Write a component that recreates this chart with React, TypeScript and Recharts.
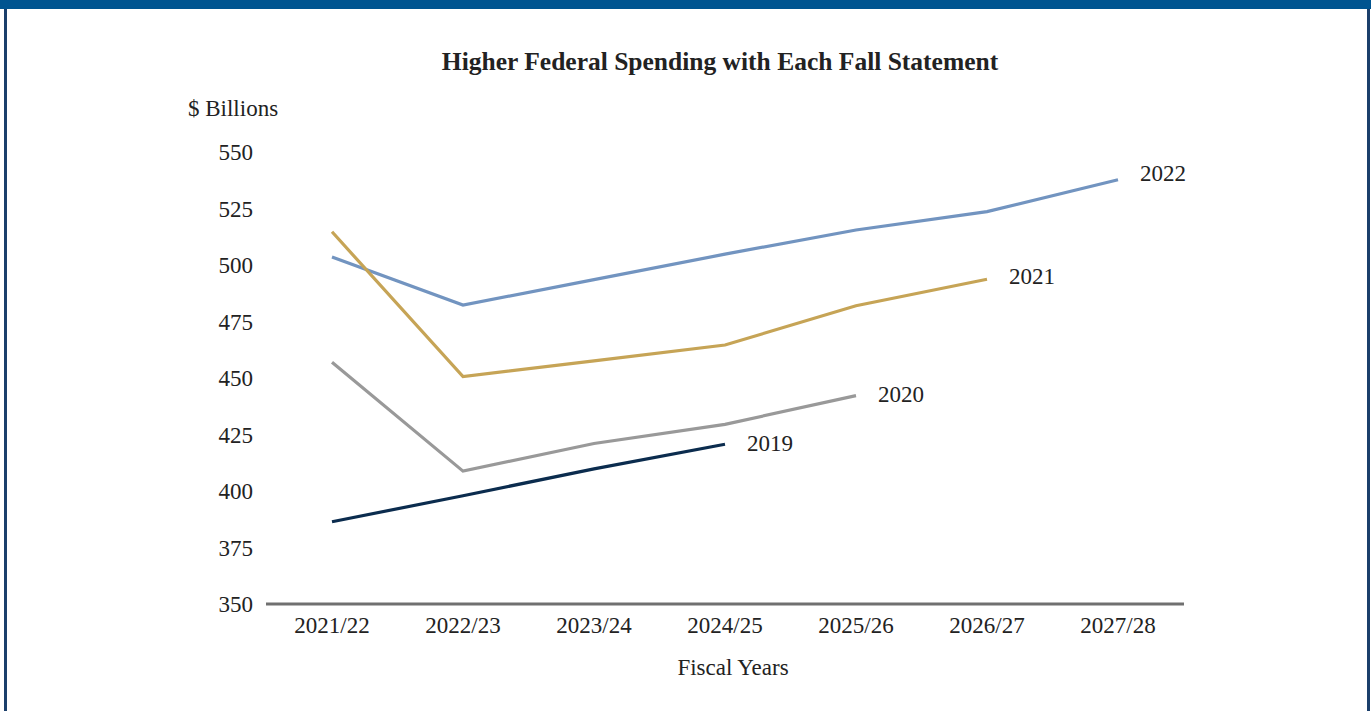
import { LineChart, Line, XAxis, YAxis } from 'recharts'

const years = ['2021/22', '2022/23', '2023/24', '2024/25', '2025/26', '2026/27', '2027/28']
const fall2022 = [503.5, 482.3, 493.5, 504.8, 515.5, 523.6, 537.7]
const fall2021 = [514.7, 450.6, 457.6, 464.6, 482.0, 493.7, null]
const fall2020 = [457.0, 408.8, 421.0, 429.5, 442.2, null, null]
const fall2019 = [386.4, 397.9, 409.8, 420.7, null, null, null]
const yTicks = [350, 375, 400, 425, 450, 475, 500, 525, 550]

const series = [
  { key: 'y2022', name: '2022', values: fall2022, color: '#7294C0', labelDy: -7 },
  { key: 'y2021', name: '2021', values: fall2021, color: '#C6A456', labelDy: -3 },
  { key: 'y2020', name: '2020', values: fall2020, color: '#999999', labelDy: -2 },
  { key: 'y2019', name: '2019', values: fall2019, color: '#0B2C4E', labelDy: -1 },
]

const chartData = years.map((year, i) => {
  const row: Record<string, string | number | null> = { year }
  series.forEach((s) => {
    row[s.key] = s.values[i]
  })
  return row
})

const FONT = '"Liberation Serif", "Times New Roman", serif'
const TEXT = '#222222'

function endLabel(name: string, values: (number | null)[], labelDy: number) {
  const last = values.reduce<number>((acc, v, i) => (v == null ? acc : i), 0)
  return (props: any) => {
    if (props.index !== last) return null
    return (
      <text
        x={props.x + 22}
        y={props.y + labelDy}
        dy="0.355em"
        fill={TEXT}
        fontSize={23}
        fontFamily={FONT}
      >
        {name}
      </text>
    )
  }
}

export default function App() {
  return (
    <div
      style={{
        position: 'fixed',
        left: 0,
        top: 0,
        width: 1371,
        height: 711,
        background: '#ffffff',
        overflow: 'hidden',
      }}
    >
      <div style={{ position: 'absolute', left: 0, top: 0, width: 1371, height: 9, background: '#005490' }} />
      <div style={{ position: 'absolute', left: 4, top: 9, width: 3, height: 702, background: '#1B3F6B' }} />
      <div style={{ position: 'absolute', left: 1367, top: 9, width: 3, height: 702, background: '#1B3F6B' }} />

      <div style={{ position: 'absolute', left: 0, top: 0 }}>
        <LineChart
          width={1371}
          height={711}
          data={chartData}
          margin={{ top: 152, right: 187, bottom: 67, left: 206 }}
        >
          <XAxis
            dataKey="year"
            height={40}
            padding={{ left: 66, right: 66 }}
            axisLine={{ stroke: '#707070', strokeWidth: 3 }}
            tickLine={false}
            tickSize={0}
            tickMargin={13}
            interval={0}
            tick={{ fill: TEXT, fontSize: 23, fontFamily: FONT }}
          />
          <YAxis
            width={60}
            domain={[350, 550]}
            ticks={yTicks}
            axisLine={false}
            tickLine={false}
            tickSize={0}
            tickMargin={13}
            tick={{ fill: TEXT, fontSize: 23, fontFamily: FONT }}
          />
          {series.map((s) => (
            <Line
              key={s.key}
              dataKey={s.key}
              name={s.name}
              stroke={s.color}
              strokeWidth={3.2}
              dot={false}
              activeDot={false}
              isAnimationActive={false}
              label={endLabel(s.name, s.values, s.labelDy)}
            />
          ))}
        </LineChart>
      </div>

      <svg
        width={1371}
        height={711}
        style={{ position: 'absolute', left: 0, top: 0, pointerEvents: 'none' }}
      >
        <text x={720} y={70} textAnchor="middle" fontSize={25.5} fontWeight="bold" fontFamily={FONT} fill={TEXT}>
          Higher Federal Spending with Each Fall Statement
        </text>
        <text x={188} y={116} fontSize={23} fontFamily={FONT} fill={TEXT}>
          $ Billions
        </text>
        <text x={733} y={675} textAnchor="middle" fontSize={23} fontFamily={FONT} fill={TEXT}>
          Fiscal Years
        </text>
      </svg>
    </div>
  )
}
